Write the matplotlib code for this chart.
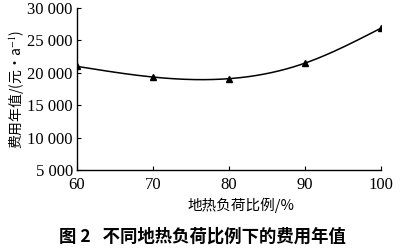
import numpy as np
import matplotlib
matplotlib.use("Agg")
import matplotlib.pyplot as plt
from matplotlib.ticker import FuncFormatter

ratio = [60, 70, 80, 90, 100]
cost = [21000, 19350, 19100, 21500, 26900]
yticks = [5000, 10000, 15000, 20000, 25000, 30000]
xticks = [60, 70, 80, 90, 100]

def natural_spline(x, y, n=200):
    x = np.asarray(x, float); y = np.asarray(y, float)
    m = len(x); h = np.diff(x)
    A = np.zeros((m, m)); b = np.zeros(m)
    A[0, 0] = A[-1, -1] = 1
    for i in range(1, m - 1):
        A[i, i - 1] = h[i - 1]; A[i, i] = 2 * (h[i - 1] + h[i]); A[i, i + 1] = h[i]
        b[i] = 3 * ((y[i + 1] - y[i]) / h[i] - (y[i] - y[i - 1]) / h[i - 1])
    c = np.linalg.solve(A, b)
    xs = np.linspace(x[0], x[-1], n); ys = np.empty_like(xs)
    for k, xv in enumerate(xs):
        i = min(np.searchsorted(x, xv, side='right') - 1, m - 2)
        d = xv - x[i]
        bi = (y[i + 1] - y[i]) / h[i] - h[i] * (2 * c[i] + c[i + 1]) / 3
        di = (c[i + 1] - c[i]) / (3 * h[i])
        ys[k] = y[i] + bi * d + c[i] * d ** 2 + di * d ** 3
    return xs, ys

serif = ['Liberation Serif', 'Noto Sans CJK SC']
cjk = ['Noto Sans CJK SC', 'DejaVu Sans']
plt.rcParams['mathtext.fontset'] = 'stix'

fig = plt.figure(figsize=(4, 2.48), dpi=100)
ax = fig.add_axes([0.1925, 0.3145, 0.76, 0.653])
xs, ys = natural_spline(ratio, cost)
ax.plot(xs, ys, color='black', lw=1.1)
ax.plot(ratio, cost, linestyle='none', marker='^', color='black', ms=4.5)
ax.set_xlim(60, 100)
ax.set_ylim(5000, 30000)
ax.set_xticks(xticks)
ax.set_yticks(yticks)
ax.yaxis.set_major_formatter(FuncFormatter(lambda v, p: f"{int(v):,}".replace(",", " ")))
for s in ['top', 'right']:
    ax.spines[s].set_visible(False)
for s in ['left', 'bottom']:
    ax.spines[s].set_linewidth(1.0)
ax.tick_params(direction='in', length=3, width=0.8, labelsize=12)
ax.tick_params(axis='y', pad=3)
ax.tick_params(axis='x', pad=5)
for lab in ax.get_xticklabels() + ax.get_yticklabels():
    lab.set_family(serif)
ax.set_xlabel('地热负荷比例/%', family=cjk, fontsize=10.5, labelpad=1)
ax.xaxis.set_label_coords(0.54, -0.17)
ax.set_ylabel('费用年值/(元·a$^{-1}$)', family=cjk, fontsize=10, labelpad=1)
fig.text(0.505, 0.045, '图 2   不同地热负荷比例下的费用年值', family=cjk,
         fontsize=12.5, fontweight='bold', ha='center', va='center')
fig.savefig('out.png', dpi=100)
